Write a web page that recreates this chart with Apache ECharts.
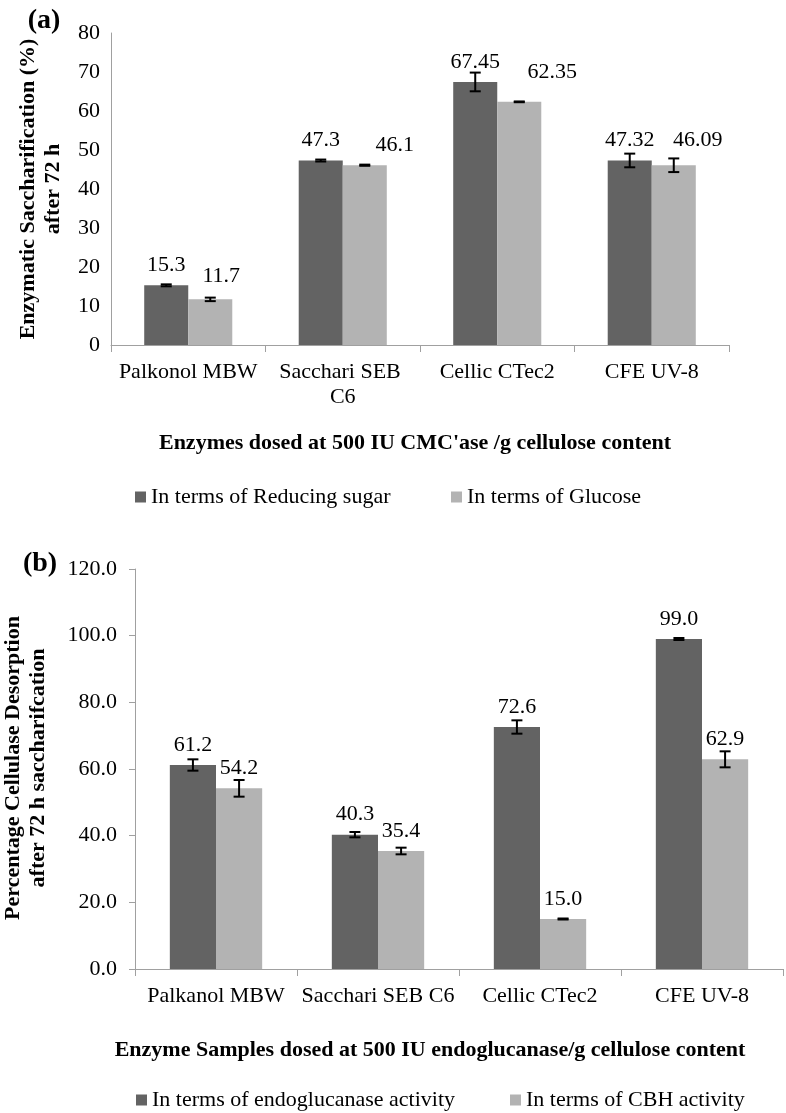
<!DOCTYPE html>
<html>
<head>
<meta charset="utf-8">
<script src="https://cdn.jsdelivr.net/npm/echarts@6/dist/echarts.min.js"></script>
<style>
html,body{margin:0;padding:0;background:#fff;}
#chart{width:786px;height:1113px;}
</style>
</head>
<body>
<div id="chart"></div>
<script>
// ---- Panel (a) data ----
const categoriesA = ['Palkonol MBW', 'Sacchari SEB C6', 'Cellic CTec2', 'CFE UV-8'];
const reducingSugar = [15.3, 47.3, 67.45, 47.32];
const reducingSugarErr = [0.25, 0.25, 2.4, 1.75];
const glucose = [11.7, 46.1, 62.35, 46.09];
const glucoseErr = [0.45, 0.15, 0.1, 1.75];
const yTicksA = { min: 0, max: 80, interval: 10 };

// ---- Panel (b) data ----
const categoriesB = ['Palkanol MBW', 'Sacchari SEB C6', 'Cellic CTec2', 'CFE UV-8'];
const endoglucanase = [61.2, 40.3, 72.6, 99.0];
const endoglucanaseErr = [1.7, 0.8, 2.0, 0.3];
const cbh = [54.2, 35.4, 15.0, 62.9];
const cbhErr = [2.5, 1.0, 0.15, 2.4];
const yTicksB = { min: 0, max: 120, interval: 20 };

// label nudges (style only, pixel offsets of value labels in panel a)
const glucoseLabelNudge = [[11, -3], [30, 0], [33, -10], [24, -5]];

const FONT = 'Liberation Serif, Times New Roman, serif';
const DARK = '#636363';
const LIGHT = '#b3b3b3';
const AXIS = '#a0a0a0';
const CAT_GAP = 0.43;

const chart = echarts.init(document.getElementById('chart'), null, { renderer: 'canvas' });

function errSeries(values, errs, side, gi) {
  return {
    type: 'custom',
    xAxisIndex: gi, yAxisIndex: gi,
    z: 10,
    silent: true,
    data: values.map((v, i) => [i, v, errs[i]]),
    encode: { x: 0, y: 1 },
    renderItem: function (params, api) {
      const cat = api.value(0), v = api.value(1), e = api.value(2);
      const band = api.size([1, 0])[0];
      const bw = band * (1 - CAT_GAP) / 2;
      const cx = api.coord([cat, v])[0] + side * bw / 2;
      const yt = api.coord([cat, v + e])[1];
      const yb = api.coord([cat, v - e])[1];
      const cw = 5.5;
      const st = { stroke: '#000', lineWidth: 2 };
      return {
        type: 'group',
        children: [
          { type: 'line', shape: { x1: cx, y1: yt, x2: cx, y2: yb }, style: st },
          { type: 'line', shape: { x1: cx - cw, y1: yt, x2: cx + cw, y2: yt }, style: st },
          { type: 'line', shape: { x1: cx - cw, y1: yb, x2: cx + cw, y2: yb }, style: st }
        ]
      };
    }
  };
}

const labelBase = { show: true, position: 'top', distance: 9, fontFamily: FONT, fontSize: 22, color: '#000' };

const legendBase = {
  orient: 'horizontal', icon: 'rect', itemWidth: 11, itemHeight: 11, padding: 0, itemGap: 0,
  selectedMode: false,
  textStyle: { fontFamily: FONT, fontSize: 22, color: '#000' }
};

const catAxisBase = {
  type: 'category',
  axisLine: { show: true, lineStyle: { color: AXIS, width: 1 } },
  axisTick: { show: true, length: 7, lineStyle: { color: AXIS } },
  splitLine: { show: false }
};

const valAxisBase = {
  type: 'value',
  axisLine: { show: true, lineStyle: { color: AXIS, width: 1 } },
  splitLine: { show: false }
};

const option = {
  animation: false,
  backgroundColor: '#fff',
  grid: [
    { left: 111, top: 33, width: 618, height: 312 },
    { left: 135, top: 569, width: 648, height: 400 }
  ],
  xAxis: [
    Object.assign({}, catAxisBase, {
      gridIndex: 0, data: categoriesA,
      axisLabel: { interval: 0, fontFamily: FONT, fontSize: 22, color: '#000', margin: 15, lineHeight: 25, width: 148, overflow: 'break' }
    }),
    Object.assign({}, catAxisBase, {
      gridIndex: 1, data: categoriesB,
      axisLabel: { interval: 0, fontFamily: FONT, fontSize: 22, color: '#000', margin: 15, lineHeight: 25 }
    })
  ],
  yAxis: [
    Object.assign({}, valAxisBase, {
      gridIndex: 0, min: yTicksA.min, max: yTicksA.max, interval: yTicksA.interval,
      axisTick: { show: false },
      axisLabel: { fontFamily: FONT, fontSize: 22, color: '#000', margin: 11 }
    }),
    Object.assign({}, valAxisBase, {
      gridIndex: 1, min: yTicksB.min, max: yTicksB.max, interval: yTicksB.interval,
      axisTick: { show: true, length: 6, lineStyle: { color: AXIS } },
      axisLabel: { fontFamily: FONT, fontSize: 22, color: '#000', margin: 18, formatter: v => v.toFixed(1) }
    })
  ],
  legend: [
    Object.assign({}, legendBase, { data: ['In terms of Reducing sugar'], left: 135, top: 486 }),
    Object.assign({}, legendBase, { data: ['In terms of Glucose'], left: 451, top: 486 }),
    Object.assign({}, legendBase, { data: ['In terms of endoglucanase activity'], left: 136, top: 1089 }),
    Object.assign({}, legendBase, { data: ['In terms of CBH activity'], left: 510, top: 1089 })
  ],
  series: [
    {
      name: 'In terms of Reducing sugar', type: 'bar', xAxisIndex: 0, yAxisIndex: 0,
      barGap: '0%', barCategoryGap: (CAT_GAP * 100) + '%',
      itemStyle: { color: DARK },
      label: Object.assign({}, labelBase, { formatter: p => String(p.value) }),
      data: reducingSugar
    },
    {
      name: 'In terms of Glucose', type: 'bar', xAxisIndex: 0, yAxisIndex: 0,
      barGap: '0%', barCategoryGap: (CAT_GAP * 100) + '%',
      itemStyle: { color: LIGHT },
      label: Object.assign({}, labelBase, { formatter: p => String(p.value) }),
      data: glucose.map((v, i) => ({ value: v, label: { offset: glucoseLabelNudge[i] } }))
    },
    errSeries(reducingSugar, reducingSugarErr, -1, 0),
    errSeries(glucose, glucoseErr, 1, 0),
    {
      name: 'In terms of endoglucanase activity', type: 'bar', xAxisIndex: 1, yAxisIndex: 1,
      barGap: '0%', barCategoryGap: (CAT_GAP * 100) + '%',
      itemStyle: { color: DARK },
      label: Object.assign({}, labelBase, { formatter: p => Number(p.value).toFixed(1) }),
      data: endoglucanase
    },
    {
      name: 'In terms of CBH activity', type: 'bar', xAxisIndex: 1, yAxisIndex: 1,
      barGap: '0%', barCategoryGap: (CAT_GAP * 100) + '%',
      itemStyle: { color: LIGHT },
      label: Object.assign({}, labelBase, { formatter: p => Number(p.value).toFixed(1) }),
      data: cbh
    },
    errSeries(endoglucanase, endoglucanaseErr, -1, 1),
    errSeries(cbh, cbhErr, 1, 1)
  ],
  graphic: [
    { type: 'text', x: 44, y: 21, style: { text: '(a)', font: 'bold 28px ' + FONT, fill: '#000', textAlign: 'center', textVerticalAlign: 'middle' } },
    { type: 'text', x: 41, y: 189, rotation: Math.PI / 2, style: { text: 'Enzymatic Saccharification (%)\nafter 72 h', font: 'bold 22px ' + FONT, lineHeight: 25, fill: '#000', textAlign: 'center', textVerticalAlign: 'middle' } },
    { type: 'text', x: 415, y: 443, style: { text: "Enzymes dosed at 500 IU CMC'ase /g cellulose content", font: 'bold 22px ' + FONT, fill: '#000', textAlign: 'center', textVerticalAlign: 'middle' } },
    { type: 'text', x: 40, y: 564, style: { text: '(b)', font: 'bold 28px ' + FONT, fill: '#000', textAlign: 'center', textVerticalAlign: 'middle' } },
    { type: 'text', x: 26, y: 768, rotation: Math.PI / 2, style: { text: 'Percentage Cellulase Desorption\nafter 72 h saccharifcation', font: 'bold 22px ' + FONT, lineHeight: 25, fill: '#000', textAlign: 'center', textVerticalAlign: 'middle' } },
    { type: 'text', x: 430, y: 1050, style: { text: 'Enzyme Samples dosed at 500 IU endoglucanase/g cellulose content', font: 'bold 22px ' + FONT, fill: '#000', textAlign: 'center', textVerticalAlign: 'middle' } }
  ]
};

chart.setOption(option);
</script>
</body>
</html>
